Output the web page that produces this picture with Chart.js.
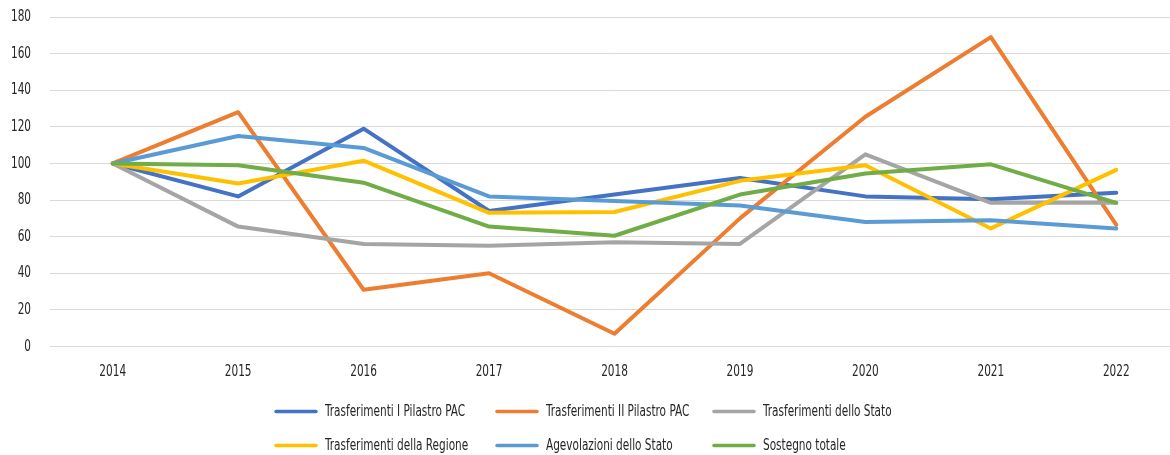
<!DOCTYPE html>
<html lang="it">
<head>
<meta charset="utf-8">
<title>Sostegno all'agricoltura, numeri indice 2014 = 100</title>
<script src="https://cdn.jsdelivr.net/npm/chart.js@4/dist/chart.umd.min.js"></script>
<style>
  html, body { margin: 0; padding: 0; background: #ffffff; overflow: hidden; }
  #wrap { position: relative; width: 1180px; height: 455px; }
</style>
</head>
<body>
<div id="wrap"><canvas id="chart"></canvas></div>
<script>
// Years on the horizontal axis
const years = ['2014', '2015', '2016', '2017', '2018', '2019', '2020', '2021', '2022'];

// Index values (2014 = 100) for each support component
const trasferimentiPilastro1 = [100, 82, 119, 74, 83, 92, 82, 80.5, 84];
const trasferimentiPilastro2 = [100, 128, 31, 40, 7, 70, 125.5, 169, 66.5];
const trasferimentiStato     = [100, 65.5, 56, 55, 57, 56, 105, 78.5, 78.5];
const trasferimentiRegione   = [100, 89, 101.5, 73, 73.5, 90.5, 99, 64.5, 96.5];
const agevolazioniStato      = [100, 115, 108.5, 82, 79.5, 77, 68, 69, 64.5];
const sostegnoTotale         = [100, 99, 89.5, 65.5, 60.5, 83, 94.5, 99.5, 78.5];

// Series names shown in the legend
const seriesNames = [
  'Trasferimenti I Pilastro PAC',
  'Trasferimenti II Pilastro PAC',
  'Trasferimenti dello Stato',
  'Trasferimenti della Regione',
  'Agevolazioni dello Stato',
  'Sostegno totale'
];

// Value axis range and tick step
const yMin = 0;
const yMax = 180;
const yStep = 20;

const seriesValues = [
  trasferimentiPilastro1,
  trasferimentiPilastro2,
  trasferimentiStato,
  trasferimentiRegione,
  agevolazioniStato,
  sostegnoTotale
];
const seriesColors = ['#4472C4', '#ED7D31', '#A5A5A5', '#FFC000', '#5B9BD5', '#70AD47'];

const FONT = "'DejaVu Sans Condensed', 'Liberation Sans Narrow', sans-serif";
const FONT_SIZE = 16;
const SQUEEZE = 0.73;          // horizontal squeeze for a tall, narrow lettering
const TEXT_COLOR = '#262626';

Chart.defaults.font.family = FONT;
Chart.defaults.color = TEXT_COLOR;

// Draws a string narrowed horizontally around its anchor point
function drawNarrowText(ctx, text, px, py, align) {
  ctx.save();
  ctx.translate(px, py);
  ctx.scale(SQUEEZE, 1);
  ctx.textAlign = align;
  ctx.fillText(text, 0, 0);
  ctx.restore();
}

// Axis labels, positioned from the chart's own scales
const narrowTickLabels = {
  id: 'narrowTickLabels',
  afterDraw(chart) {
    const ctx = chart.ctx;
    const xScale = chart.scales.x;
    const yScale = chart.scales.y;
    ctx.save();
    ctx.fillStyle = TEXT_COLOR;
    ctx.font = FONT_SIZE + 'px ' + FONT;
    ctx.textBaseline = 'middle';
    const yLabelRight = chart.chartArea.left - 19;
    yScale.ticks.forEach(t => {
      drawNarrowText(ctx, String(t.value), yLabelRight, yScale.getPixelForValue(t.value), 'right');
    });
    const xLabelY = chart.chartArea.bottom + 25.5;
    xScale.ticks.forEach((t, i) => {
      drawNarrowText(ctx, xScale.getLabelForValue(t.value), xScale.getPixelForTick(i), xLabelY, 'center');
    });
    ctx.restore();
  }
};

// Legend laid out as a 3-column grid below the plot
const gridLegend = {
  id: 'gridLegend',
  afterDraw(chart) {
    const ctx = chart.ctx;
    const colX = [274, 495, 712];
    const rowY = [411.5, 445.5];
    ctx.save();
    ctx.font = FONT_SIZE + 'px ' + FONT;
    ctx.textBaseline = 'middle';
    chart.data.datasets.forEach((ds, i) => {
      const x = colX[i % 3];
      const y = rowY[Math.floor(i / 3)];
      ctx.strokeStyle = ds.borderColor;
      ctx.lineWidth = 3.5;
      ctx.lineCap = 'round';
      ctx.beginPath();
      ctx.moveTo(x + 2, y);
      ctx.lineTo(x + 42, y);
      ctx.stroke();
      ctx.fillStyle = TEXT_COLOR;
      drawNarrowText(ctx, ds.label, x + 51, y + 0.5, 'left');
    });
    ctx.restore();
  }
};

const datasets = seriesNames.map((name, i) => ({
  label: name,
  data: seriesValues[i],
  borderColor: seriesColors[i],
  backgroundColor: seriesColors[i],
  borderWidth: 4,
  borderCapStyle: 'round',
  borderJoinStyle: 'round',
  pointRadius: 0,
  pointHoverRadius: 0,
  tension: 0,
  fill: false,
  order: seriesNames.length - i
}));

new Chart(document.getElementById('chart'), {
  type: 'line',
  data: { labels: years, datasets },
  plugins: [narrowTickLabels, gridLegend],
  options: {
    responsive: true,
    maintainAspectRatio: false,
    animation: false,
    layout: { padding: { top: 17, right: 1, bottom: 108.5, left: 0 } },
    plugins: {
      legend: { display: false },
      tooltip: { enabled: false },
      title: { display: false }
    },
    scales: {
      x: {
        offset: true,
        grid: { display: false, drawTicks: false },
        border: { display: false },
        ticks: { display: false }
      },
      y: {
        min: yMin,
        max: yMax,
        grid: { color: '#d9d9d9', lineWidth: 1, drawTicks: false },
        border: { display: false },
        ticks: { display: false, stepSize: yStep },
        afterFit(scale) { scale.width = 50; }
      }
    }
  }
});
</script>
</body>
</html>
